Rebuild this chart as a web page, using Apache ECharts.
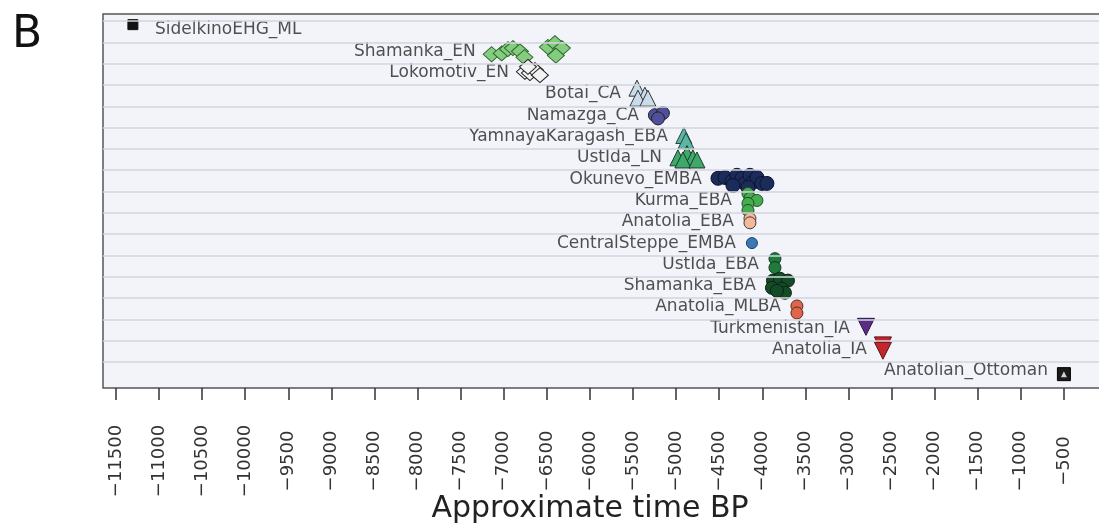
<!DOCTYPE html>
<html>
<head>
<meta charset="utf-8">
<script src="https://cdn.jsdelivr.net/npm/echarts@6/dist/echarts.min.js"></script>
<style>
  html, body { margin: 0; padding: 0; background: #fff; }
  #chart { width: 1099px; height: 526px; }
</style>
</head>
<body>
<div id="chart"></div>
<script>
// rows, top to bottom
const groupNames = [
  "SidelkinoEHG_ML", "Shamanka_EN", "Lokomotiv_EN", "Botai_CA", "Namazga_CA",
  "YamnayaKaragash_EBA", "UstIda_LN", "Okunevo_EMBA", "Kurma_EBA", "Anatolia_EBA",
  "CentralSteppe_EMBA", "UstIda_EBA", "Shamanka_EBA", "Anatolia_MLBA",
  "Turkmenistan_IA", "Anatolia_IA", "Anatolian_Ottoman"
]

// each sample: [time BP, vertical jitter within its row]
const sidelkino = [[-11303, -0.25]]
const shamankaEN = [[-7140, 0.14], [-7024, 0.1], [-6951, -0.1], [-6893, -0.15], [-6812, 0],
  [-6760, 0.28], [-6487, -0.2], [-6406, -0.38], [-6325, -0.15], [-6395, 0.2]]
const lokomotivEN = [[-6754, -0.04], [-6696, 0.02], [-6638, -0.12], [-6580, 0.12], [-6719, -0.27]]
const botaiCA = [[-5454, -0.27], [-5362, 0.06], [-5443, 0.2], [-5327, 0.2]]
const namazgaCA = [[-5246, 0], [-5153, -0.1], [-5210, 0.15]]
const yamnayaEBA = [[-4910, -0.05], [-4885, 0.2]]
const ustidaLN = [[-4979, 0], [-4874, -0.2], [-4805, 0], [-4921, 0.1], [-4758, 0.1]]
const okunevoEMBA = [[-4514, -0.04], [-4433, -0.08], [-4352, 0.1], [-4294, -0.18], [-4236, -0.04],
  [-4201, 0.2], [-4143, -0.18], [-4109, 0.15], [-4062, -0.08], [-4004, 0.2], [-3946, 0.2],
  [-4166, 0.39], [-4340, 0.3]]
const kurmaEBA = [[-4166, -0.33], [-4143, -0.1], [-4062, 0], [-4166, 0.14], [-4166, 0.47]]
const anatoliaEBA = [[-4143, -0.15], [-4143, 0.05]]
const centralSteppeEMBA = [[-4120, 0]]
const ustidaEBA = [[-3853, -0.27], [-3853, 0.15]]
const shamankaEBA = [[-3876, -0.24], [-3795, -0.33], [-3702, -0.24], [-3888, 0.1], [-3772, 0.14],
  [-3737, 0.33], [-3830, 0.24]]
const anatoliaMLBA = [[-3598, -0.05], [-3598, 0.28]]
const turkmenistanIA = [[-2797, -0.07]]
const anatoliaIA = [[-2600, -0.2], [-2600, 0.05]]
const anatolianOttoman = [[-500, 0.15]]

const tickValues = [-11500, -11000, -10500, -10000, -9500, -9000, -8500, -8000, -7500, -7000,
  -6500, -6000, -5500, -5000, -4500, -4000, -3500, -3000, -2500, -2000, -1500, -1000, -500]

const groupSamples = [sidelkino, shamankaEN, lokomotivEN, botaiCA, namazgaCA, yamnayaEBA,
  ustidaLN, okunevoEMBA, kurmaEBA, anatoliaEBA, centralSteppeEMBA, ustidaEBA, shamankaEBA,
  anatoliaMLBA, turkmenistanIA, anatoliaIA, anatolianOttoman]

// marker look per row
const styles = [
  { symbol: "rect", size: 10, fill: "#111", border: "#111" },
  { symbol: "diamond", size: [17, 15], fill: "#86cc80", border: "#2f6a2c" },
  { symbol: "diamond", size: [17, 15], fill: "#f2f2f2", border: "#222" },
  { symbol: "triangle", size: 16, fill: "#c9dcea", border: "#333" },
  { symbol: "circle", size: 13, fill: "#4f4f9c", border: "#222" },
  { symbol: "triangle", size: 16, fill: "#5db5a5", border: "#23443d" },
  { symbol: "triangle", size: 16, fill: "#3ea96a", border: "#1e3b28" },
  { symbol: "circle", size: 14, fill: "#1b2b5a", border: "#0c1430" },
  { symbol: "circle", size: 12, fill: "#45ad50", border: "#1f4d24" },
  { symbol: "circle", size: 12, fill: "#f3b99c", border: "#4a3a30" },
  { symbol: "circle", size: 11, fill: "#3b78b8", border: "#1d3d60" },
  { symbol: "circle", size: 12, fill: "#1f7a3b", border: "#0f3a1c" },
  { symbol: "circle", size: 13, fill: "#134b27", border: "#0a2413" },
  { symbol: "circle", size: 12, fill: "#e0664b", border: "#5a2a20" },
  { symbol: "triangle", size: 17, fill: "#5a2d82", border: "#2a1440", rotate: 180 },
  { symbol: "triangle", size: 17, fill: "#c1272d", border: "#5a1014", rotate: 180 },
  { symbol: "rect", size: 13, fill: "#1a1a1a", border: "#000" }
]

const FONT = "DejaVu Sans"

const series = groupSamples.map((samples, row) => ({
  type: "scatter",
  name: groupNames[row],
  symbol: styles[row].symbol,
  symbolSize: styles[row].size,
  symbolRotate: styles[row].rotate || 0,
  itemStyle: { color: styles[row].fill, borderColor: styles[row].border, borderWidth: 1, opacity: 1 },
  data: samples.map(s => [s[0], row + s[1]]),
  z: 3
}))

// white triangle inside the Ottoman square
series.push({
  type: "scatter",
  symbol: "triangle",
  symbolSize: 6,
  itemStyle: { color: "#fff" },
  data: anatolianOttoman.map(s => [s[0], groupNames.length - 1 + s[1]]),
  z: 4
})

// group labels sit next to the earliest sample of each row
series.push({
  type: "scatter",
  symbolSize: 0,
  silent: true,
  data: groupSamples.map((samples, row) => {
    const minX = Math.min(...samples.map(s => s[0]))
    const first = row === 0
    return {
      name: groupNames[row],
      value: [minX, row],
      label: { position: first ? "right" : "left", distance: first ? 22 : 16 }
    }
  }),
  label: {
    show: true,
    formatter: "{b}",
    fontFamily: FONT,
    fontSize: 17,
    color: "#262626"
  },
  markLine: {
    silent: true,
    symbol: "none",
    label: { show: false },
    lineStyle: { color: "#d3d5de", width: 1.5, type: "solid" },
    data: groupNames.map((_, i) => ({ yAxis: i - 0.42 }))
  },
  z: 2
})

const chart = echarts.init(document.getElementById("chart"))
chart.setOption({
  animation: false,
  backgroundColor: "#fff",
  grid: {
    left: 103, top: 14, right: -8, bottom: 138,
    outerBoundsMode: "none",
    show: true, backgroundColor: "#f3f4fa", borderColor: "#555", borderWidth: 1.5
  },
  xAxis: {
    type: "value",
    min: -11650,
    max: 0,
    axisLine: { show: false, onZero: false },
    splitLine: { show: false },
    axisTick: { show: true, inside: false, length: 12, customValues: tickValues,
      lineStyle: { color: "#333", width: 1.5 } },
    axisLabel: {
      customValues: tickValues,
      rotate: 90,
      align: "center",
      verticalAlign: "middle",
      margin: 73,
      fontFamily: FONT,
      fontSize: 18,
      color: "#333",
      formatter: v => String(v).replace("-", "\u2212")
    }
  },
  yAxis: {
    type: "value",
    inverse: true,
    min: -0.75,
    max: 16.8,
    show: false,
    splitLine: { show: false }
  },
  graphic: [
    { type: "text", left: 12, top: 14, style: { text: "B", fontFamily: FONT, fontSize: 44, fill: "#111" } },
    { type: "text", x: 590, y: 494, style: { text: "Approximate time BP", fontFamily: FONT, fontSize: 30, fill: "#222", align: "center" } }
  ],
  series: series
})
</script>
</body>
</html>
